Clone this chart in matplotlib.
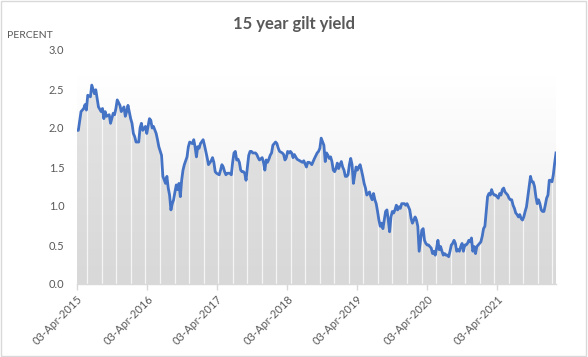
import numpy as np
import matplotlib
matplotlib.use("Agg")
import matplotlib.pyplot as plt
import matplotlib.dates as mdates
from matplotlib.colors import LinearSegmentedColormap
from matplotlib.patches import Rectangle

plt.rcParams['font.family'] = ['Lato', 'DejaVu Sans']

# weekly observations (Fridays), counted in weeks from 03-Apr-2015
start_date = np.datetime64('2015-04-03')
last_week = 357

weeks = [
    0, 1, 3, 5, 6, 7, 8, 10, 11, 13, 14, 15, 16, 18, 19, 20, 21, 22, 24, 25,
    27, 28, 29, 30, 32, 33, 35, 36, 37, 38, 40, 41, 42, 43, 44, 46, 47, 48, 49, 51,
    52, 54, 55, 56, 57, 59, 60, 61, 63, 64, 66, 67, 68, 69, 70, 71, 72, 73, 74, 75,
    76, 77, 78, 79, 80, 82, 83,
    84, 86, 87, 88, 89, 90, 91, 92, 94, 95, 96, 97, 98, 100, 101, 102, 103, 104, 106, 107,
    108, 109, 110, 111, 112, 114, 115, 116, 117, 118, 119, 120, 121, 122, 123, 124, 125, 126, 127, 128,
    129, 130, 131, 133, 134, 135, 136, 138, 139, 140, 141, 142, 143, 144, 145, 146, 148, 149, 150, 151,
    153, 154, 155, 156, 157, 158, 159, 160, 161, 162, 164, 165, 166, 168, 169, 171, 172, 173,
    174, 175, 176, 177, 179, 180, 181, 182, 184, 185, 186, 187, 188, 189, 190, 191, 192, 193, 194, 195,
    196, 197, 198, 199, 200, 201, 202, 203, 204, 205, 206, 207, 208, 209, 210, 211, 212, 213, 214, 215,
    216, 217, 218, 219, 220, 221, 222, 223, 224, 225, 226, 227, 228, 229, 230, 231, 232, 233, 234, 235,
    236, 237, 238, 239, 240, 241, 242, 243, 244, 245, 246, 247, 248, 249, 250, 251, 252, 253, 254, 255,
    256, 257, 258, 259, 260, 261, 262,
    263, 264, 265, 266, 267, 268, 269, 270, 271, 272, 273, 274, 275, 276, 277, 278, 279, 280, 281, 282,
    283, 284, 285, 286, 287, 288, 289, 290, 291, 292, 293, 294, 295, 296, 297, 298, 299, 300, 301, 302,
    303, 304, 305, 306, 307, 308, 309, 310, 311, 312, 313, 314, 315, 316, 317, 318, 319, 320, 321, 322,
    323, 324, 325, 326, 327, 328, 329, 330, 331, 332, 333, 334, 335, 336, 337, 338, 339, 340, 341, 342,
    343, 344, 345, 346, 347, 348, 349, 350, 351, 352, 353, 354, 355, 356, 357,
]

yields = [
    1.97, 1.97, 2.21, 2.25, 2.30, 2.23, 2.42, 2.40, 2.55, 2.44, 2.49, 2.38, 2.27, 2.21, 2.25, 2.12, 2.21, 2.15, 2.17, 2.06,
    2.19, 2.17, 2.25, 2.36, 2.29, 2.21, 2.27, 2.15, 2.21, 2.29, 2.12, 2.06, 1.93, 1.89, 1.82, 1.82, 2.00, 2.06, 1.97, 2.02,
    1.93, 2.12, 2.10, 2.00, 2.02, 1.93, 1.85, 1.76, 1.65, 1.38, 1.29, 1.38, 1.23, 1.14, 0.95, 1.03, 1.08, 1.18, 1.27, 1.21,
    1.29, 1.12, 1.33, 1.46, 1.53, 1.63, 1.76,
    1.82, 1.80, 1.85, 1.76, 1.63, 1.76, 1.74, 1.80, 1.85, 1.78, 1.70, 1.62, 1.53, 1.58, 1.62, 1.56, 1.44, 1.42, 1.40, 1.46,
    1.53, 1.50, 1.44, 1.40, 1.42, 1.42, 1.40, 1.56, 1.68, 1.70, 1.59, 1.60, 1.56, 1.46, 1.44, 1.44, 1.42, 1.33, 1.50, 1.65,
    1.70, 1.70, 1.68, 1.68, 1.66, 1.62, 1.59, 1.62, 1.56, 1.46, 1.59, 1.56, 1.60, 1.65, 1.68, 1.78, 1.82, 1.80, 1.74, 1.70,
    1.68, 1.66, 1.59, 1.62, 1.70, 1.68, 1.70, 1.68, 1.62, 1.66, 1.60, 1.59, 1.58, 1.56, 1.58, 1.50, 1.56, 1.56,
    1.55, 1.53, 1.57, 1.61, 1.68, 1.70, 1.74, 1.87, 1.78, 1.57, 1.68, 1.65, 1.61, 1.63, 1.57, 1.46, 1.44, 1.48, 1.55, 1.48,
    1.53, 1.57, 1.50, 1.46, 1.38, 1.38, 1.40, 1.53, 1.61, 1.53, 1.29, 1.40, 1.50, 1.46, 1.50, 1.53, 1.46, 1.38, 1.29, 1.23,
    1.14, 1.16, 1.18, 1.12, 1.08, 1.16, 1.08, 1.03, 0.93, 0.82, 0.74, 0.78, 0.71, 0.82, 0.93, 0.95, 0.82, 0.67, 0.86, 0.93,
    0.91, 0.95, 1.01, 0.95, 0.99, 0.97, 1.03, 1.03, 1.03, 1.01, 1.03, 0.99, 0.95, 0.84, 0.78, 0.82, 0.86, 0.82, 0.74, 0.42,
    0.56, 0.69, 0.71, 0.56, 0.52, 0.50, 0.50,
    0.48, 0.46, 0.39, 0.42, 0.37, 0.46, 0.56, 0.44, 0.48, 0.42, 0.37, 0.39, 0.37, 0.37, 0.35, 0.42, 0.50, 0.52, 0.56, 0.52,
    0.42, 0.44, 0.42, 0.48, 0.52, 0.42, 0.50, 0.50, 0.52, 0.56, 0.54, 0.59, 0.42, 0.48, 0.39, 0.48, 0.50, 0.52, 0.54, 0.61,
    0.71, 0.74, 0.93, 1.12, 1.16, 1.14, 1.21, 1.16, 1.14, 1.14, 1.12, 1.10, 1.16, 1.14, 1.21, 1.23, 1.18, 1.16, 1.14, 1.10,
    1.08, 1.08, 1.01, 0.97, 0.91, 0.89, 0.86, 0.89, 0.84, 0.82, 0.86, 0.93, 0.99, 1.12, 1.25, 1.38, 1.31, 1.31, 1.25, 1.12,
    1.03, 1.08, 1.03, 0.95, 0.93, 0.93, 1.01, 1.10, 1.14, 1.33, 1.33, 1.31, 1.40, 1.55, 1.68,
]

title = "15 year gilt yield"
y_label = "PERCENT"
y_ticks = [0.0, 0.5, 1.0, 1.5, 2.0, 2.5, 3.0]

text_col = '#595959'
line_col = '#4472c4'

dates = start_date + np.array(weeks) * np.timedelta64(7, 'D')
x = mdates.date2num(dates.astype('datetime64[D]').astype(object))
x0 = mdates.date2num(start_date.astype(object))
x1 = mdates.date2num((start_date + last_week * np.timedelta64(7, 'D')).astype(object))

fig = plt.figure(figsize=(5.88, 3.57), dpi=100)
ax = fig.add_axes([77 / 588, 1 - 284 / 357, 479 / 588, 234 / 357])

# light backdrop behind the series
bg = LinearSegmentedColormap.from_list('bg', ['#ececec', '#ffffff'])
ax.imshow(np.linspace(0, 1, 256)[::-1].reshape(-1, 1), cmap=bg, aspect='auto',
          extent=[x0, x1, 0, 2.66], zorder=0, interpolation='bilinear')

# area under the curve
poly = ax.fill_between(x, yields, 0, facecolor='none', edgecolor='none')
clip = poly.get_paths()[0]
fg = LinearSegmentedColormap.from_list('fg', ['#d8d8d8', '#e4e4e4'])
im = ax.imshow(np.linspace(0, 1, 256)[::-1].reshape(-1, 1), cmap=fg, aspect='auto',
               extent=[x0, x1, 0, 2.66], zorder=1, interpolation='bilinear')
im.set_clip_path(clip, transform=ax.transData)

stripe_x = np.arange(x0 + 54, x1, 75.8)
vl = ax.vlines(stripe_x, 0, 3, colors='white', lw=0.9, alpha=0.75, zorder=2)
vl.set_clip_path(clip, transform=ax.transData)

ax.plot(x, yields, color=line_col, lw=2.0, zorder=3, solid_joinstyle='round')

ax.set_xlim(x0, x1)
ax.set_ylim(0, 3.0)
ax.set_yticks(y_ticks)
ax.set_yticklabels([f"{v:.1f}" for v in y_ticks])

ax.xaxis.set_major_locator(mdates.YearLocator(base=1, month=4, day=3))
ax.xaxis.set_major_formatter(mdates.DateFormatter('%d-%b-%Y'))

for s in ['top', 'right', 'left']:
    ax.spines[s].set_visible(False)
ax.spines['bottom'].set_color('#d9d9d9')
ax.spines['bottom'].set_linewidth(1.0)

ax.tick_params(axis='y', length=0, pad=9, labelsize=8, labelcolor=text_col)
ax.tick_params(axis='x', length=4, color='#d9d9d9', width=1.0, pad=3,
               labelsize=8, labelcolor=text_col)
plt.setp(ax.get_xticklabels(), rotation=45, ha='right', rotation_mode='anchor')

fig.text(0.5, 1 - 24 / 357, title, ha='center', va='center', fontsize=12,
         fontweight='bold', color=text_col)
fig.text(7 / 588, 1 - 36 / 357, y_label, ha='left', va='center', fontsize=7.5,
         color=text_col)

fig.patches.append(Rectangle((0.002, 0.003), 0.995, 0.994, transform=fig.transFigure,
                             fill=False, ec='#d9d9d9', lw=1.0))

fig.savefig('out.png', dpi=100)
